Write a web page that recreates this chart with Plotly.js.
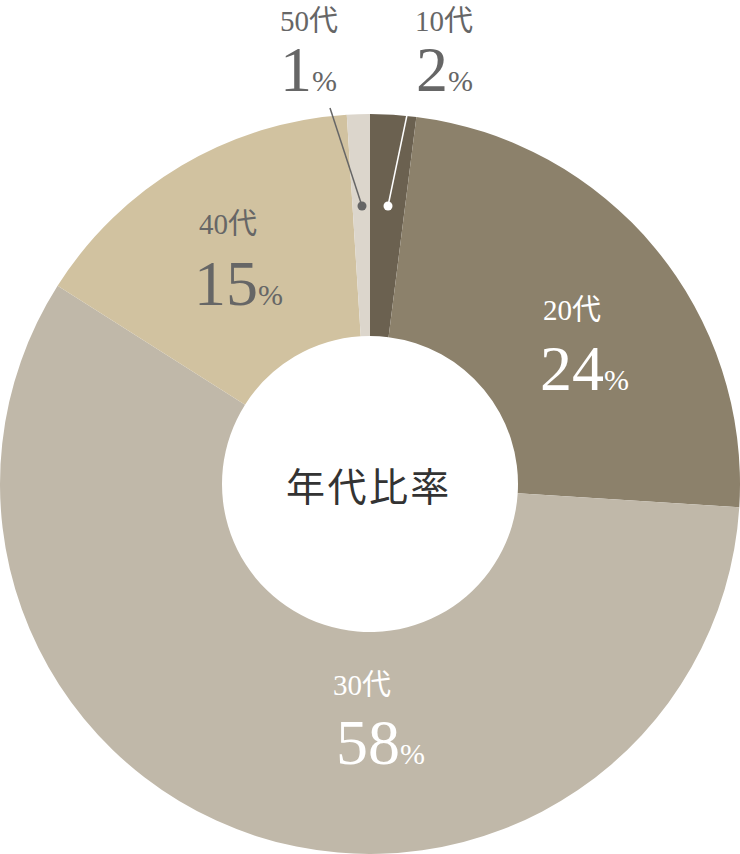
<!DOCTYPE html>
<html>
<head>
<meta charset="utf-8">
<script src="https://cdn.plot.ly/plotly-3.0.1.min.js"></script>
<style>
  html, body { margin: 0; padding: 0; background: #fff; }
  #chart { width: 740px; height: 854px; }
</style>
</head>
<body>
<div id="chart"></div>
<script>
const ageGroups = ['10代', '20代', '30代', '40代', '50代'];
const shares = [2, 24, 58, 15, 1];
const sliceColors = ['#6b6150', '#8c816b', '#c0b8a9', '#d1c2a0', '#dcd6cc'];
const labelColors = ['#666666', '#ffffff', '#ffffff', '#666666', '#666666'];
// label centres in pixels: [small x, small y, big x, big y]
const labelPos = [
  [444, 21, 444, 70],
  [572, 310, 584, 368],
  [362, 685, 380, 742],
  [228, 224, 238, 284],
  [309, 21, 308, 70]
];

const W = 740, H = 854;
const px = x => x / W;
const py = y => 1 - y / H;
const serif = 'Liberation Serif, "Noto Sans CJK JP", serif';

const annotations = [];
ageGroups.forEach((g, i) => {
  const p = labelPos[i];
  annotations.push({
    x: px(p[0]), y: py(p[1]), xref: 'paper', yref: 'paper',
    text: g, showarrow: false, xanchor: 'center', yanchor: 'middle',
    font: { family: serif, size: 29, color: labelColors[i] }
  });
  annotations.push({
    x: px(p[2]), y: py(p[3]), xref: 'paper', yref: 'paper',
    text: shares[i] + '<span style="font-size:30px">%</span>',
    showarrow: false, xanchor: 'center', yanchor: 'middle',
    font: { family: serif, size: 64, color: labelColors[i] }
  });
});
annotations.push({
  x: px(367), y: py(484), xref: 'paper', yref: 'paper',
  text: '年\u200a代\u200a比\u200a率', showarrow: false,
  font: { family: '"Noto Sans CJK JP", sans-serif', size: 39, color: '#333333' }
});

// leader lines for the two thin slices
const shapes = [
  { type: 'line', xref: 'paper', yref: 'paper', x0: px(330), y0: py(108), x1: px(362), y1: py(206),
    line: { color: '#666666', width: 1.5 } },
  { type: 'circle', xref: 'paper', yref: 'paper', x0: px(357.5), y0: py(201.5), x1: px(366.5), y1: py(210.5),
    fillcolor: '#666666', line: { width: 0 } },
  { type: 'line', xref: 'paper', yref: 'paper', x0: px(407), y0: py(115), x1: px(388), y1: py(206),
    line: { color: '#ffffff', width: 1.5 } },
  { type: 'circle', xref: 'paper', yref: 'paper', x0: px(383.5), y0: py(201.5), x1: px(392.5), y1: py(210.5),
    fillcolor: '#ffffff', line: { width: 0 } }
];

const data = [{
  type: 'pie',
  labels: ageGroups,
  values: shares,
  hole: 0.4,
  sort: false,
  direction: 'clockwise',
  rotation: 0,
  marker: { colors: sliceColors, line: { width: 0 } },
  textinfo: 'none',
  hoverinfo: 'none',
  domain: { x: [0, 1], y: [0, 740 / 854] }
}];

const layout = {
  width: W, height: H,
  margin: { l: 0, r: 0, t: 0, b: 0 },
  paper_bgcolor: '#ffffff',
  showlegend: false,
  annotations,
  shapes
};

Plotly.newPlot('chart', data, layout, { displayModeBar: false, staticPlot: true });
</script>
</body>
</html>
